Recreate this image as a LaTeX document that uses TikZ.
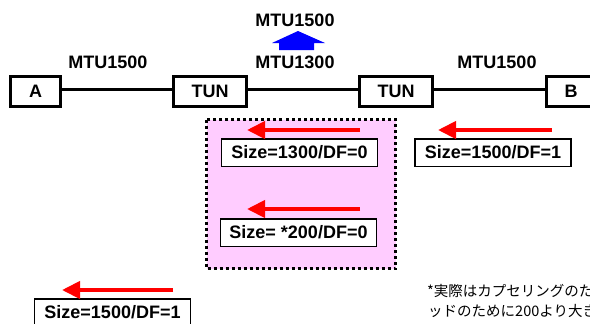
\documentclass[tikz,border=0pt]{standalone}
\usepackage{fontspec}
\setmainfont{Liberation Sans}
\newfontfamily\jpfont{Noto Sans CJK JP}
\usetikzlibrary{arrows.meta}
\definecolor{pinkfill}{RGB}{255,204,255}
\definecolor{redarrow}{RGB}{255,0,0}
\definecolor{bluearrow}{RGB}{0,0,255}
\tikzset{
  lbl/.style={font=\fontsize{18bp}{20bp}\selectfont\bfseries, inner sep=0pt},
  thickbox/.style={draw=black, line width=3bp, fill=white, inner sep=0pt,
    minimum height=30bp, font=\fontsize{18bp}{20bp}\selectfont\bfseries},
  sizebox/.style={draw=black, line width=1.5bp, fill=white, inner sep=0pt,
    minimum width=156bp, minimum height=27.5bp, font=\fontsize{18bp}{20bp}\selectfont\bfseries},
  link/.style={draw=black, line width=3bp},
  redarr/.style={draw=redarrow, line width=4bp, -{Triangle[length=18bp,width=17bp]}},
  note/.style={font=\fontsize{14.5bp}{16bp}\selectfont\jpfont, inner sep=0pt, anchor=base west}
}
\begin{document}
\begin{tikzpicture}[x=1bp, y=-1bp]
\useasboundingbox (0,0) rectangle (590,323);

% pink dotted region
\draw[fill=pinkfill, draw=black, line width=3bp, dash pattern=on 3bp off 3bp]
  (206.5,119.5) rectangle (395.5,268.5);

% main boxes
\node[thickbox, minimum width=49bp] (A) at (35.5,91.5) {A};
\node[thickbox, minimum width=73bp] (T1) at (210,91.5) {TUN};
\node[thickbox, minimum width=73bp] (T2) at (396,91.5) {TUN};
\node[thickbox, minimum width=49bp] (B) at (571,91.5) {B};

\draw[link] ([yshift=2.5bp]A.east) -- ([yshift=2.5bp]T1.west);
\draw[link] ([yshift=2.5bp]T1.east) -- ([yshift=2.5bp]T2.west);
\draw[link] ([yshift=2.5bp]T2.east) -- ([yshift=2.5bp]B.west);

% MTU labels
\node[lbl] (m1) at (108,62) {MTU1500};
\node[lbl] (m2) at (295,62) {MTU1300};
\node[lbl] (m3) at (295,20) {MTU1500};
\node[lbl] (m4) at (497,62) {MTU1500};

% blue arrow
\fill[bluearrow] (272,43) -- (298,31) -- (325,43) -- (314,43) -- (314,50) -- (279,50) -- (279,43) -- cycle;

% size boxes
\node[sizebox] (s1) at (299.5,152.5) {Size=1300/DF=0};
\node[sizebox] (s2) at (298.5,232.5) {Size= *200/DF=0};
\node[sizebox] (s3) at (493,152.5) {Size=1500/DF=1};
\node[sizebox] (s4) at (112.5,312.5) {Size=1500/DF=1};

% red arrows
\coordinate (r1s) at (360,130); \coordinate (r1e) at (247,130);
\coordinate (r2s) at (360,209); \coordinate (r2e) at (247,209);
\coordinate (r3s) at (552,130); \coordinate (r3e) at (438,130);
\coordinate (r4s) at (173,290); \coordinate (r4e) at (62,290);
\draw[redarr] (r1s) -- (r1e);
\draw[redarr] (r2s) -- (r2e);
\draw[redarr] (r3s) -- (r3e);
\draw[redarr] (r4s) -- (r4e);

% note
\node[note] (n1) at (427,296.5) {*実際はカプセリングのた};
\node[note] (n2) at (428,316) {ッドのために200より大き};
\end{tikzpicture}
\end{document}
